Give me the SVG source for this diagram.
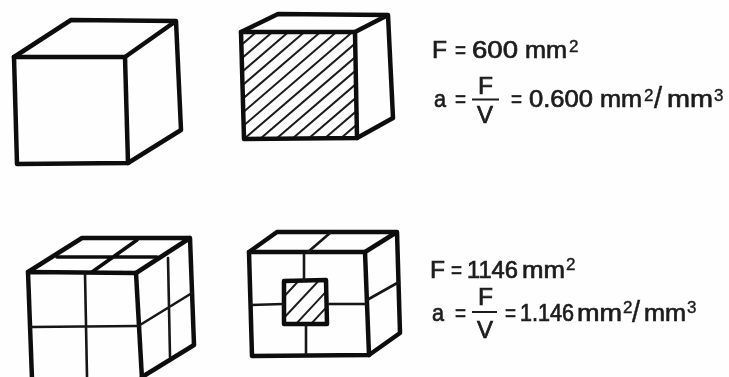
<svg xmlns="http://www.w3.org/2000/svg" width="729" height="377" viewBox="0 0 729 377">
<style>
.o{fill:none;stroke:#111;stroke-width:4.5;stroke-linejoin:round;stroke-linecap:round}
.m{fill:none;stroke:#111;stroke-width:3.6;stroke-linejoin:round;stroke-linecap:round}
.t{fill:none;stroke:#161616;stroke-width:2.6;stroke-linecap:round}
.h{fill:none;stroke:#1c1c1c;stroke-width:2}
text{font-family:"Liberation Sans",Arial,sans-serif;fill:#1c1c1c;font-size:24px;stroke:#1c1c1c;stroke-width:.7}
.s{font-size:17px;stroke-width:.4}
.l{font-size:29px;stroke-width:.4}
</style>
<defs>
<clipPath id="c2"><path d="M242 33H355L357 138H244Z"/></clipPath>
<clipPath id="c4"><path d="M285 281H326L327 324H285Z"/></clipPath>
<filter id="b" x="-2%" y="-2%" width="104%" height="104%"><feGaussianBlur stdDeviation="0.55"/></filter>
</defs>
<rect width="729" height="377" fill="#fefefe"/>
<g filter="url(#b)">
<g id="cube-1">
<path class="o" d="M14 57L125 57L128 163L17 164Z"/>
<path class="o" d="M14 57L71 20L176 21L125 57M176 21L181 130L128 163"/>
</g>
<g id="cube-2">
<path class="h" clip-path="url(#c2)" d="M116 139l250 -215M132 139l250 -215M148 139l250 -215M164 139l250 -215M180 139l250 -215M196 139l250 -215M212 139l250 -215M228 139l250 -215M244 139l250 -215M260 139l250 -215M276 139l250 -215M292 139l250 -215M308 139l250 -215M324 139l250 -215M340 139l250 -215"/>
<path class="o" d="M241 32L355 32L357 138L244 139Z"/>
<path class="o" d="M241 32L278 14L388 15L355 32M388 15L393 118L357 138"/>
</g>
<g id="cube-3">
<path class="o" d="M32 379L28 272L136 273L142 379"/>
<path class="o" d="M142 377L194 345L190 238L82 238L28 272M136 273L190 238"/>
<path class="t" d="M85 273L87 377M30 327L138 326M140 325L192 293M168 258L170 357"/>
<path class="m" d="M57 257L157 257M92 272L137 240"/>
</g>
<g id="cube-4">
<path class="h" clip-path="url(#c4)" d="M279 302l26 -28M280 322l45 -48M295 325l40 -43M310 325l25 -27"/>
<path class="o" d="M249 252L365 252L369 355L252 356Z"/>
<path class="o" d="M249 252L277 232L397 232L365 252M397 232L400 333L369 355"/>
<path class="o" d="M284 281L326 280L327 324L284 324Z"/>
<path class="t" d="M308 252L330 233M367 300L399 282M304 254L304 280M306 325L306 354M251 305L283 304M329 304L366 304"/>
</g>
</g>
<g id="formula-1">
<text x="432" y="58" textLength="15" lengthAdjust="spacingAndGlyphs">F</text>
<text x="455" y="58" textLength="11" lengthAdjust="spacingAndGlyphs">=</text>
<text x="472" y="58" textLength="46" lengthAdjust="spacingAndGlyphs">600</text>
<text x="525" y="58" textLength="42" lengthAdjust="spacingAndGlyphs">mm</text>
<text class="s" x="569" y="52">2</text>
<text x="434" y="107" textLength="12" lengthAdjust="spacingAndGlyphs">a</text>
<text x="455" y="107" textLength="11" lengthAdjust="spacingAndGlyphs">=</text>
<text x="478" y="94" textLength="15" lengthAdjust="spacingAndGlyphs">F</text>
<path d="M472 99.5H499" stroke="#1c1c1c" stroke-width="2"/>
<text x="477" y="123" textLength="16" lengthAdjust="spacingAndGlyphs">V</text>
<text x="511" y="107" textLength="11" lengthAdjust="spacingAndGlyphs">=</text>
<text x="529" y="107" textLength="64" lengthAdjust="spacingAndGlyphs">0.600</text>
<text x="600" y="107" textLength="42" lengthAdjust="spacingAndGlyphs">mm</text>
<text class="s" x="644" y="101">2</text>
<text class="l" x="654" y="108">/</text>
<text x="667" y="107" textLength="46" lengthAdjust="spacingAndGlyphs">mm</text>
<text class="s" x="714" y="101">3</text>
</g>
<g id="formula-2">
<text x="430" y="278" textLength="15" lengthAdjust="spacingAndGlyphs">F</text>
<text x="451" y="278" textLength="11" lengthAdjust="spacingAndGlyphs">=</text>
<text x="467" y="278" textLength="51" lengthAdjust="spacingAndGlyphs">1146</text>
<text x="522" y="278" textLength="43" lengthAdjust="spacingAndGlyphs">mm</text>
<text class="s" x="566" y="270">2</text>
<text x="432" y="321" textLength="12" lengthAdjust="spacingAndGlyphs">a</text>
<text x="455" y="321" textLength="11" lengthAdjust="spacingAndGlyphs">=</text>
<text x="478" y="305" textLength="15" lengthAdjust="spacingAndGlyphs">F</text>
<path d="M472 312H497" stroke="#1c1c1c" stroke-width="2"/>
<text x="477" y="338" textLength="16" lengthAdjust="spacingAndGlyphs">V</text>
<text x="505" y="321" textLength="11" lengthAdjust="spacingAndGlyphs">=</text>
<text x="520" y="321" textLength="54" lengthAdjust="spacingAndGlyphs">1.146</text>
<text x="577" y="321" textLength="45" lengthAdjust="spacingAndGlyphs">mm</text>
<text class="s" x="623" y="313">2</text>
<text class="l" x="632" y="322">/</text>
<text x="644" y="321" textLength="42" lengthAdjust="spacingAndGlyphs">mm</text>
<text class="s" x="687" y="313">3</text>
</g>
</svg>
